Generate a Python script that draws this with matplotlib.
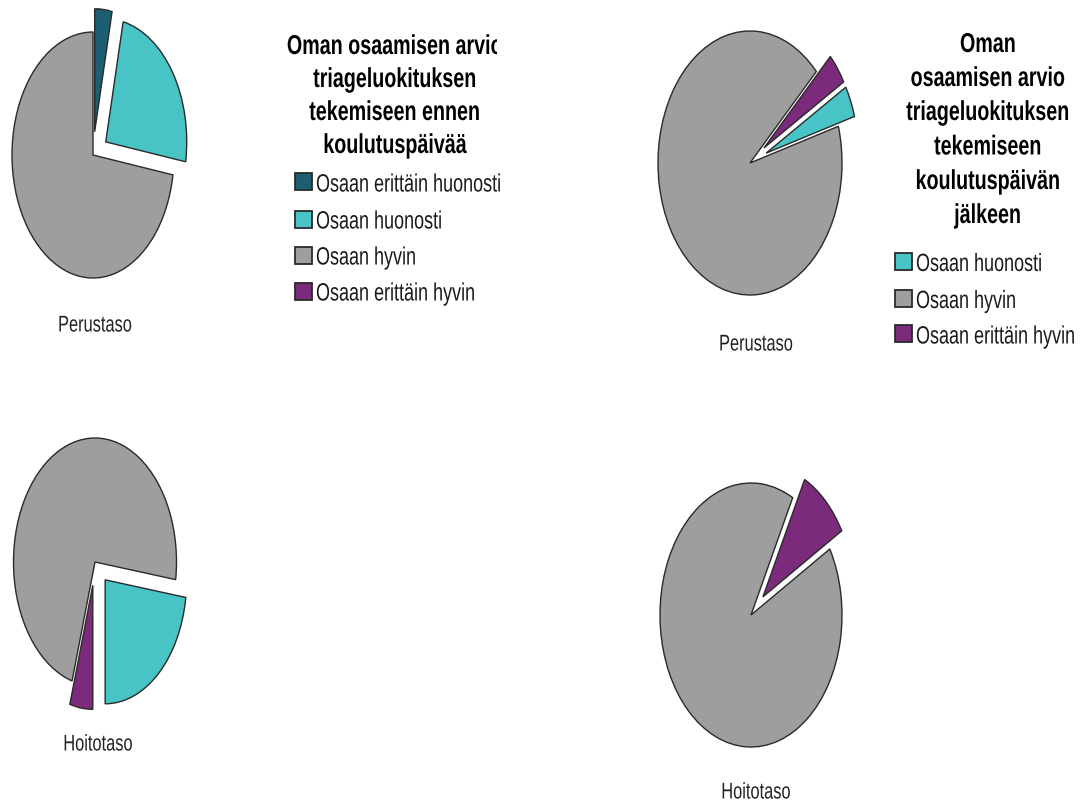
import matplotlib.pyplot as plt
from matplotlib.patches import Rectangle
from matplotlib.patheffects import AbstractPathEffect
from matplotlib.transforms import Affine2D, Bbox, TransformedBbox

plt.rcParams['font.family'] = ['Liberation Sans', 'DejaVu Sans']

# Vastausluokat ja niiden värit
categories = ['Osaan erittäin huonosti', 'Osaan huonosti', 'Osaan hyvin', 'Osaan erittäin hyvin']
colors = ['#1c5f73', '#48c3c6', '#9e9e9e', '#7b2a7c']

# Vastaajamäärät (perustaso / hoitotaso) ennen ja jälkeen koulutuspäivän
before_perus = [1, 7, 21, 0]
before_hoito = [0, 5, 16, 1]
after_perus = [0, 1, 24, 1]
after_hoito = [0, 0, 20, 2]

group_labels = ['Perustaso', 'Hoitotaso']
title_before = ['Oman osaamisen arvio', 'triageluokituksen', 'tekemiseen ennen', 'koulutuspäivää']
title_after = ['Oman', 'osaamisen arvio', 'triageluokituksen', 'tekemiseen',
               'koulutuspäivän', 'jälkeen']

W, H = 1092, 805
SX = 0.72  # tekstin vaakasuuntainen kavennus


class Narrow(AbstractPathEffect):
    """Kaventaa tekstiä vaakasuunnassa rivin keskikohdan tai vasemman reunan ympäri."""

    def __init__(self, sx=SX, align='center'):
        super().__init__()
        self.sx = sx
        self.align = align

    def draw_path(self, renderer, gc, tpath, affine, rgbFace=None):
        if self.align == 'left':
            a = affine.transform((0, 0))[0]
        else:
            ext = tpath.get_extents(affine)
            a = 0.5 * (ext.x0 + ext.x1)
        squeeze = Affine2D().translate(-a, 0).scale(self.sx, 1).translate(a, 0)
        renderer.draw_path(gc, tpath, affine + squeeze, rgbFace)


fig = plt.figure(figsize=(W / 100, H / 100), dpi=100)

# pohja-akseli pikselikoordinaateissa tekstejä ja selitteitä varten
base = fig.add_axes([0, 0, 1, 1])
base.set_xlim(0, W)
base.set_ylim(H, 0)
base.axis('off')


def draw_pie(counts, cx, cy, rx, ry, start, ccw):
    pad = 1.4
    ax = fig.add_axes([(cx - pad * rx) / W, 1 - (cy + pad * ry) / H,
                       2 * pad * rx / W, 2 * pad * ry / H])
    idx = [i for i, c in enumerate(counts) if c > 0]
    vals = [counts[i] for i in idx]
    ax.pie(vals, colors=[colors[i] for i in idx],
           explode=[0 if categories[i] == 'Osaan hyvin' else 0.19 for i in idx],
           startangle=start, counterclock=ccw,
           wedgeprops=dict(edgecolor='#2a2a2a', linewidth=1.0))
    ax.set_aspect('auto')
    ax.set_xlim(-pad, pad)
    ax.set_ylim(-pad, pad)
    ax.axis('off')


draw_pie(before_perus, 93, 155, 81, 123, 90, False)
draw_pie(before_hoito, 95, 562, 81.5, 124, -90, True)
draw_pie(after_perus, 750, 163, 92, 132, 30, False)
draw_pie(after_hoito, 751, 615, 91, 132, 30, False)

# ryhmien nimet piirakoiden alle
for x, y, lab in [(95, 325, group_labels[0]), (98, 744, group_labels[1]),
                  (756, 344, group_labels[0]), (756, 792, group_labels[1])]:
    base.text(x, y, lab, ha='center', va='center', fontsize=16.4, color='#222222',
              path_effects=[Narrow()])


def draw_legend(title, baselines, tx, used, bx, box_y, clip_x=None):
    for line, y in zip(title, baselines):
        t = base.text(tx, y, line, ha='center', va='baseline', fontsize=19.7,
                      fontweight='bold', color='black', path_effects=[Narrow()])
        if clip_x is not None:
            t.set_clip_on(True)
            t.set_clip_box(TransformedBbox(Bbox([[0, 0], [clip_x, H]]), base.transData))
    for i, y in zip(used, box_y):
        base.add_patch(Rectangle((bx, y - 8.5), 17, 17, facecolor=colors[i],
                                 edgecolor='#2a2a2a', linewidth=1.3))
        base.text(bx + 21, y + 9.5, categories[i], ha='left', va='baseline',
                  fontsize=18, color='#1a1a1a', path_effects=[Narrow(align='left')])


used_before = [i for i in range(4) if before_perus[i] + before_hoito[i] > 0]
used_after = [i for i in range(4) if after_perus[i] + after_hoito[i] > 0]

draw_legend(title_before, [54, 87, 120, 153], 395, used_before, 295,
            [182, 219, 255, 291], clip_x=497)
draw_legend(title_after, [52, 86, 120, 154.5, 189, 223], 988, used_after, 895,
            [261.5, 298.5, 334])

fig.savefig('out.png', dpi=100)
